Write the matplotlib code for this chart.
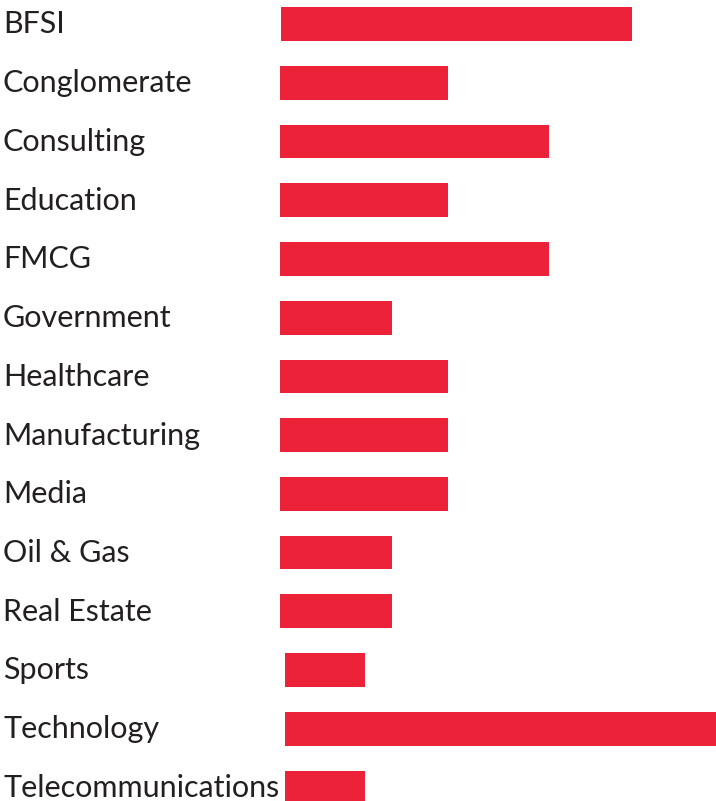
import matplotlib.pyplot as plt
import numpy as np

plt.rcParams['font.family'] = ['Lato', 'DejaVu Sans']

industries = ["BFSI", "Conglomerate", "Consulting", "Education", "FMCG",
              "Government", "Healthcare", "Manufacturing", "Media",
              "Oil & Gas", "Real Estate", "Sports", "Technology",
              "Telecommunications"]
values = [351, 168, 269, 168, 269, 112, 168, 168, 168, 112, 112, 80, 431, 80]
starts = [281, 280, 280, 280, 280, 280, 280, 280, 280, 280, 280, 285, 285, 285]

fig = plt.figure(figsize=(7.16, 8.01), dpi=100)
ax = fig.add_axes([0, 0, 1, 1])

y = np.arange(len(industries))
ax.barh(y, values, left=starts, height=0.574, color="#EC2239")

for i, name in enumerate(industries):
    ax.text(3, i + 0.16, name, fontsize=22, color="#231F20", va="baseline", ha="left")

ax.set_xlim(0, 716)
ax.set_ylim(13.23, -0.41)
ax.axis("off")

fig.savefig("out.png", dpi=100)
plt.close(fig)
